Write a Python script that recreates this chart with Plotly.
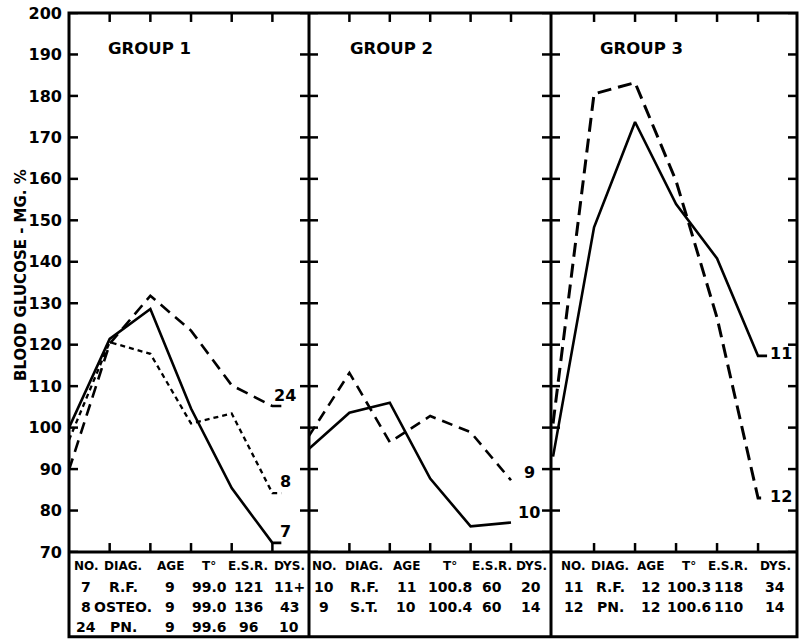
import plotly.graph_objects as go

# ---------------- data ----------------
t_points = [0, 1, 2, 3, 4, 5]

# Group 1
g1_case7 = [100, 121.4, 128.6, 104.6, 85.4, 72.2]    # solid
g1_case8 = [97, 120.6, 117.8, 101, 103.4, 84.2]      # dotted
g1_case24 = [89.8, 120.2, 131.8, 123.4, 110.2, 105.2]  # dashed
# Group 2
g2_case10 = [94.9, 103.6, 106, 87.7, 76.2, 77.1]     # solid
g2_case9 = [98, 113.2, 96.5, 102.8, 98.9, 87.3]      # dashed
# Group 3
g3_case11 = [93, 148.3, 173.7, 153.9, 140.8, 117.3]  # solid
g3_case12 = [101, 180.5, 183.2, 159.5, 126.5, 83]    # dashed

group_titles = ["GROUP 1", "GROUP 2", "GROUP 3"]
y_ticks = list(range(70, 201, 10))
x_ticks = [1, 2, 3, 4, 5]

table_header = ["NO.", "DIAG.", "AGE", "T°", "E.S.R.", "DYS."]
table_g1 = [["7", "R.F.", "9", "99.0", "121", "11+"],
            ["8", "OSTEO.", "9", "99.0", "136", "43"],
            ["24", "PN.", "9", "99.6", "96", "10"]]
table_g2 = [["10", "R.F.", "11", "100.8", "60", "20"],
            ["9", "S.T.", "10", "100.4", "60", "14"]]
table_g3 = [["11", "R.F.", "12", "100.3", "118", "34"],
            ["12", "PN.", "12", "100.6", "110", "14"]]

# ---------------- layout constants ----------------
W, H = 801, 639
L_PX, R_PX, T_PX, B_PX = 69, 797, 11, 552
DIV = [(309 - L_PX) / (R_PX - L_PX), (551 - L_PX) / (R_PX - L_PX)]
domains = [[0, DIV[0]], [DIV[0], DIV[1]], [DIV[1], 1]]
xranges = [[0, 5.9], [0, 5.99], [-0.05, 5.95]]
Y_RANGE = [70, 200]
FONT = "DejaVu Sans"
FRAME_W = 3
TICK_LEN = 9


def px_to_paper_x(px):
    return (px - L_PX) / (R_PX - L_PX)


def py_to_paper_y(py):
    return (B_PX - py) / (B_PX - T_PX)


fig = go.Figure()

STUB = 0.22


def add_line(xa, ya, ys, dash, width=2.6, stub=False):
    xs = list(t_points)
    yv = list(ys)
    if stub:
        xs = xs + [t_points[-1] + STUB]
        yv = yv + [ys[-1]]
    fig.add_trace(go.Scatter(x=xs, y=yv, mode="lines", xaxis=xa, yaxis=ya,
                             line=dict(color="black", width=width, dash=dash),
                             showlegend=False, hoverinfo="skip"))


add_line("x", "y", g1_case24, "12px,7px", stub=True)
add_line("x", "y", g1_case8, "5px,4px", width=2.3, stub=True)
add_line("x", "y", g1_case7, "solid", stub=True)
add_line("x2", "y2", g2_case9, "11px,7px")
add_line("x2", "y2", g2_case10, "solid")
add_line("x3", "y3", g3_case12, "14px,7px", width=3, stub=True)
add_line("x3", "y3", g3_case11, "solid", stub=True)

# inward tick marks on all four sides of every panel, drawn as short line segments
plot_h_px = B_PX - T_PX
for i in range(3):
    sfx = "" if i == 0 else str(i + 1)
    xr = xranges[i]
    panel_w_px = (domains[i][1] - domains[i][0]) * (R_PX - L_PX)
    len_x = TICK_LEN / (panel_w_px / (xr[1] - xr[0]))
    len_y = TICK_LEN / (plot_h_px / (Y_RANGE[1] - Y_RANGE[0]))
    xs, ys = [], []
    for yt in y_ticks:
        xs += [xr[0], xr[0] + len_x, None, xr[1] - len_x, xr[1], None]
        ys += [yt, yt, None, yt, yt, None]
    for xt in x_ticks:
        xs += [xt, xt, None, xt, xt, None]
        ys += [Y_RANGE[0], Y_RANGE[0] + len_y, None, Y_RANGE[1] - len_y, Y_RANGE[1], None]
    fig.add_trace(go.Scatter(x=xs, y=ys, mode="lines", xaxis="x" + sfx, yaxis="y" + sfx,
                             line=dict(color="black", width=2.5), connectgaps=False,
                             showlegend=False, hoverinfo="skip"))

axes = {}
for i in range(3):
    sfx = "" if i == 0 else str(i + 1)
    axes["xaxis" + sfx] = dict(domain=domains[i], range=xranges[i], tickvals=x_ticks,
                               ticks="", showline=False,
                               showticklabels=False, showgrid=False, zeroline=False,
                               anchor="y" + sfx)
    axes["yaxis" + sfx] = dict(range=Y_RANGE, tickvals=y_ticks,
                               ticks="", showline=False, ticklabelstandoff=6,
                               showticklabels=(i == 0), showgrid=False, zeroline=False,
                               anchor="x" + sfx,
                               tickfont=dict(family=FONT, size=16, color="black",
                                             weight="bold"))

annotations = []


def ann(**kw):
    d = dict(showarrow=False, xanchor="center", yanchor="middle")
    d.update(kw)
    annotations.append(d)


# curve end labels
end_labels = [("x", "y", "24", 5.3, 107.8), ("x", "y", "8", 5.32, 87), ("x", "y", "7", 5.32, 75),
              ("x2", "y2", "9", 5.47, 89.1), ("x2", "y2", "10", 5.45, 79.5),
              ("x3", "y3", "11", 5.55, 117.9), ("x3", "y3", "12", 5.55, 83.4)]
for xa, ya, txt, xv, yv in end_labels:
    ann(x=xv, y=yv, xref=xa, yref=ya, text=txt,
        font=dict(family=FONT, size=16, color="black", weight="bold"))

# group titles
title_x = [1.99, 2.05, 2.15]
for i, ttl in enumerate(group_titles):
    sfx = "" if i == 0 else str(i + 1)
    ann(x=title_x[i], y=191.5, xref="x" + sfx, yref="y" + sfx, text=ttl,
        font=dict(family=FONT, size=16.5, color="black", weight="bold"))

# y axis title
ann(x=px_to_paper_x(21), y=py_to_paper_y(274), xref="paper", yref="paper",
    text="BLOOD GLUCOSE - MG. %", textangle=-90,
    font=dict(family=FONT, size=15, color="black", weight="bold"))

# table
col_px = [[86, 123, 170, 209, 248, 289],
          [324, 364, 406, 450, 492, 531],
          [573, 610, 650, 689, 728, 775]]
row_py = [566, 587, 607, 627]
tables = [table_g1, table_g2, table_g3]
for p in range(3):
    for c, h in enumerate(table_header):
        ann(x=px_to_paper_x(col_px[p][c]), y=py_to_paper_y(row_py[0]),
            xref="paper", yref="paper", text=h,
            font=dict(family=FONT, size=12, color="black", weight="bold"))
    for r, row in enumerate(tables[p]):
        for c, cell in enumerate(row):
            ann(x=px_to_paper_x(col_px[p][c]), y=py_to_paper_y(row_py[r + 1]),
                xref="paper", yref="paper", text=cell,
                font=dict(family=FONT, size=14, color="black", weight="bold"))

# frame: outer box (plot + table), table top line, panel dividers
tbl_bottom = py_to_paper_y(637)
frame_line = dict(color="black", width=FRAME_W)
shapes = [dict(type="rect", xref="paper", yref="paper", x0=0, x1=1, y0=tbl_bottom, y1=1,
               line=frame_line, fillcolor="rgba(0,0,0,0)"),
          dict(type="line", xref="paper", yref="paper", x0=0, x1=1, y0=0, y1=0,
               line=frame_line)]
for d in DIV:
    shapes.append(dict(type="line", xref="paper", yref="paper", x0=d, x1=d, y0=tbl_bottom, y1=1,
                       line=frame_line))

fig.update_layout(width=W, height=H, margin=dict(l=L_PX, r=W - R_PX, t=T_PX, b=H - B_PX),
                  paper_bgcolor="white", plot_bgcolor="white",
                  annotations=annotations, shapes=shapes, showlegend=False, **axes)

fig.write_html("out.html")
